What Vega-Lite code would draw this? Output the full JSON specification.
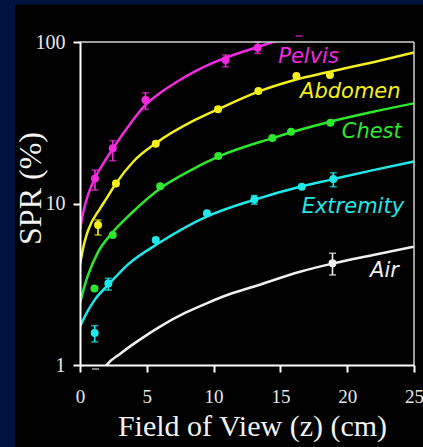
{
  "$schema": "https://vega.github.io/schema/vega-lite/v6.json",
  "width": 334,
  "height": 323,
  "autosize": {"type": "none"},
  "padding": {"left": 80, "top": 42, "right": 9, "bottom": 82},
  "background": "#00123f",
  "datasets": {
    "curves": [
      {"series": "Pelvis", "x": 0, "y": 6.85},
      {"series": "Pelvis", "x": 0.247, "y": 8.86},
      {"series": "Pelvis", "x": 0.599, "y": 11.29},
      {"series": "Pelvis", "x": 1.123, "y": 14.38},
      {"series": "Pelvis", "x": 1.722, "y": 17.56},
      {"series": "Pelvis", "x": 2.418, "y": 21.6},
      {"series": "Pelvis", "x": 3.615, "y": 30.0},
      {"series": "Pelvis", "x": 4.865, "y": 40.45},
      {"series": "Pelvis", "x": 5.988, "y": 48.3},
      {"series": "Pelvis", "x": 7.111, "y": 55.7},
      {"series": "Pelvis", "x": 8.608, "y": 65.7},
      {"series": "Pelvis", "x": 10.03, "y": 74.7},
      {"series": "Pelvis", "x": 11.47, "y": 83.1},
      {"series": "Pelvis", "x": 13.3, "y": 93.1},
      {"series": "Pelvis", "x": 14.22, "y": 98.6},
      {"series": "Pelvis", "x": 15.72, "y": 108.2},
      {"series": "Abdomen", "x": 0, "y": 4.2},
      {"series": "Abdomen", "x": 0.3, "y": 5.6},
      {"series": "Abdomen", "x": 0.6, "y": 6.8},
      {"series": "Abdomen", "x": 1.5, "y": 9.3},
      {"series": "Abdomen", "x": 2.0, "y": 10.8},
      {"series": "Abdomen", "x": 2.69, "y": 13.3},
      {"series": "Abdomen", "x": 4.0, "y": 18.2},
      {"series": "Abdomen", "x": 5.61, "y": 23.4},
      {"series": "Abdomen", "x": 8.61, "y": 32.9},
      {"series": "Abdomen", "x": 10.35, "y": 38.4},
      {"series": "Abdomen", "x": 13.4, "y": 49.5},
      {"series": "Abdomen", "x": 16, "y": 58},
      {"series": "Abdomen", "x": 18.7, "y": 65.5},
      {"series": "Abdomen", "x": 21.95, "y": 75},
      {"series": "Abdomen", "x": 25, "y": 86},
      {"series": "Chest", "x": 0, "y": 2.41},
      {"series": "Chest", "x": 0.3, "y": 3.0},
      {"series": "Chest", "x": 0.6, "y": 3.6},
      {"series": "Chest", "x": 1.35, "y": 5.0},
      {"series": "Chest", "x": 2.35, "y": 6.5},
      {"series": "Chest", "x": 3.84, "y": 8.7},
      {"series": "Chest", "x": 6.0, "y": 12.4},
      {"series": "Chest", "x": 8, "y": 15.6},
      {"series": "Chest", "x": 10.35, "y": 19.5},
      {"series": "Chest", "x": 14.35, "y": 25.3},
      {"series": "Chest", "x": 16.47, "y": 28.6},
      {"series": "Chest", "x": 18.71, "y": 32.1},
      {"series": "Chest", "x": 21.95, "y": 37.0},
      {"series": "Chest", "x": 25, "y": 41.7},
      {"series": "Extremity", "x": 0, "y": 1.73},
      {"series": "Extremity", "x": 0.5, "y": 2.1},
      {"series": "Extremity", "x": 1.1, "y": 2.53},
      {"series": "Extremity", "x": 2.1, "y": 3.13},
      {"series": "Extremity", "x": 3.6, "y": 4.2},
      {"series": "Extremity", "x": 6.0, "y": 5.75},
      {"series": "Extremity", "x": 9.48, "y": 8.29},
      {"series": "Extremity", "x": 12.97, "y": 10.5},
      {"series": "Extremity", "x": 16.47, "y": 12.7},
      {"series": "Extremity", "x": 18.71, "y": 14.0},
      {"series": "Extremity", "x": 21.95, "y": 16.1},
      {"series": "Extremity", "x": 25, "y": 18.2},
      {"series": "Air", "x": 1.5, "y": 0.85},
      {"series": "Air", "x": 2.0, "y": 1.0},
      {"series": "Air", "x": 2.99, "y": 1.17},
      {"series": "Air", "x": 4.34, "y": 1.41},
      {"series": "Air", "x": 5.99, "y": 1.73},
      {"series": "Air", "x": 7.86, "y": 2.10},
      {"series": "Air", "x": 9.48, "y": 2.41},
      {"series": "Air", "x": 11.23, "y": 2.75},
      {"series": "Air", "x": 12.97, "y": 3.05},
      {"series": "Air", "x": 16.47, "y": 3.78},
      {"series": "Air", "x": 18.96, "y": 4.26},
      {"series": "Air", "x": 21.95, "y": 4.80},
      {"series": "Air", "x": 25, "y": 5.40}
    ],
    "points": [
      {"series": "Pelvis", "x": 1.12, "y": 14.3},
      {"series": "Pelvis", "x": 2.45, "y": 22.0},
      {"series": "Pelvis", "x": 4.9, "y": 43.7},
      {"series": "Pelvis", "x": 10.9, "y": 77.4},
      {"series": "Pelvis", "x": 13.3, "y": 92.2},
      {"series": "Abdomen", "x": 1.35, "y": 7.36},
      {"series": "Abdomen", "x": 2.69, "y": 13.3},
      {"series": "Abdomen", "x": 5.67, "y": 23.4},
      {"series": "Abdomen", "x": 10.33, "y": 38.4},
      {"series": "Abdomen", "x": 13.35, "y": 49.8},
      {"series": "Abdomen", "x": 16.2, "y": 61.6},
      {"series": "Abdomen", "x": 18.71, "y": 62.5},
      {"series": "Chest", "x": 1.08, "y": 2.98},
      {"series": "Chest", "x": 2.45, "y": 6.38},
      {"series": "Chest", "x": 6.0, "y": 12.8},
      {"series": "Chest", "x": 10.35, "y": 19.7},
      {"series": "Chest", "x": 14.4, "y": 25.4},
      {"series": "Chest", "x": 15.8, "y": 27.8},
      {"series": "Chest", "x": 18.75, "y": 31.6},
      {"series": "Extremity", "x": 1.1, "y": 1.58},
      {"series": "Extremity", "x": 2.12, "y": 3.2},
      {"series": "Extremity", "x": 5.67, "y": 5.95},
      {"series": "Extremity", "x": 9.5, "y": 8.7},
      {"series": "Extremity", "x": 13.05, "y": 10.6},
      {"series": "Extremity", "x": 16.6, "y": 12.7},
      {"series": "Extremity", "x": 18.96, "y": 14.2},
      {"series": "Air", "x": 18.9, "y": 4.26}
    ],
    "errs": [
      {"series": "Pelvis", "x": 1.12, "lo": 12.1, "hi": 16.1},
      {"series": "Pelvis", "x": 2.45, "lo": 18.4, "hi": 24.5},
      {"series": "Pelvis", "x": 4.9, "lo": 38.3, "hi": 48.5},
      {"series": "Pelvis", "x": 10.9, "lo": 70.3, "hi": 83.1},
      {"series": "Pelvis", "x": 13.3, "lo": 85.1, "hi": 100},
      {"series": "Abdomen", "x": 1.35, "lo": 6.38, "hi": 7.9},
      {"series": "Extremity", "x": 1.1, "lo": 1.39, "hi": 1.75},
      {"series": "Extremity", "x": 2.12, "lo": 2.91, "hi": 3.44},
      {"series": "Extremity", "x": 13.05, "lo": 9.9, "hi": 11.2},
      {"series": "Extremity", "x": 18.96, "lo": 12.7, "hi": 15.5},
      {"series": "Air", "x": 18.9, "lo": 3.61, "hi": 4.92}
    ],
    "stray": [
      {"series": "Pelvis", "x": 16.4, "y": 109},
      {"series": "Air", "x": 1.17, "y": 0.944}
    ],
    "labels": [
      {"series": "Pelvis", "x": 14.84, "y": 73.8, "label": "Pelvis"},
      {"series": "Abdomen", "x": 16.47, "y": 44.8, "label": "Abdomen"},
      {"series": "Chest", "x": 19.59, "y": 25.3, "label": "Chest"},
      {"series": "Extremity", "x": 16.59, "y": 8.7, "label": "Extremity"},
      {"series": "Air", "x": 21.71, "y": 3.49, "label": "Air"}
    ]
  },
  "layer": [
    {
      "data": {"values": [{}]},
      "mark": {"type": "rect", "fill": "#000000", "clip": false},
      "encoding": {
        "x": {"datum": -4.87, "type": "quantitative", "scale": {"domain": [0, 25], "nice": false, "zero": false}, "title": "Field of View (z) (cm)"},
        "x2": {"datum": 25.7},
        "y": {"datum": 170, "type": "quantitative", "scale": {"type": "log", "domain": [1, 100], "nice": false}, "title": "SPR (%)"},
        "y2": {"datum": 0.3}
      }
    },
    {
      "data": {"name": "curves"},
      "mark": {"type": "line", "strokeWidth": 2.5, "interpolate": "monotone", "clip": true},
      "encoding": {
        "x": {"field": "x", "type": "quantitative", "scale": {"domain": [0, 25], "nice": false, "zero": false}, "title": "Field of View (z) (cm)",
          "axis": {"values": [0, 5, 10, 15, 20, 25], "format": "d", "zindex": 1}},
        "y": {"field": "y", "type": "quantitative", "scale": {"type": "log", "domain": [1, 100], "nice": false}, "title": "SPR (%)",
          "axis": {"values": [1, 10, 100], "format": "d", "zindex": 1}},
        "color": {"field": "series", "type": "nominal", "legend": null,
          "scale": {"domain": ["Pelvis", "Abdomen", "Chest", "Extremity", "Air"], "range": ["#f22ae0", "#f4f01c", "#2ee82e", "#1ee8e8", "#f0f0f0"]}},
        "detail": {"field": "series"}
      }
    },
    {
      "data": {"name": "errs"},
      "mark": {"type": "rule", "strokeWidth": 1.6},
      "encoding": {
        "x": {"field": "x", "type": "quantitative", "title": "Field of View (z) (cm)"},
        "y": {"field": "lo", "type": "quantitative", "scale": {"type": "log", "domain": [1, 100], "nice": false}, "title": "SPR (%)"},
        "y2": {"field": "hi"},
        "color": {"field": "series", "type": "nominal", "legend": null}
      }
    },
    {
      "data": {"name": "errs"},
      "mark": {"type": "tick", "orient": "horizontal", "size": 7, "thickness": 1.6},
      "encoding": {
        "x": {"field": "x", "type": "quantitative", "title": "Field of View (z) (cm)"},
        "y": {"field": "lo", "type": "quantitative", "scale": {"type": "log", "domain": [1, 100], "nice": false}, "title": "SPR (%)"},
        "color": {"field": "series", "type": "nominal", "legend": null}
      }
    },
    {
      "data": {"name": "errs"},
      "mark": {"type": "tick", "orient": "horizontal", "size": 7, "thickness": 1.6},
      "encoding": {
        "x": {"field": "x", "type": "quantitative", "title": "Field of View (z) (cm)"},
        "y": {"field": "hi", "type": "quantitative", "scale": {"type": "log", "domain": [1, 100], "nice": false}, "title": "SPR (%)"},
        "color": {"field": "series", "type": "nominal", "legend": null}
      }
    },
    {
      "data": {"name": "stray"},
      "mark": {"type": "tick", "orient": "horizontal", "size": 7, "thickness": 1.6, "clip": false},
      "encoding": {
        "x": {"field": "x", "type": "quantitative", "title": "Field of View (z) (cm)"},
        "y": {"field": "y", "type": "quantitative", "scale": {"type": "log", "domain": [1, 100], "nice": false}, "title": "SPR (%)"},
        "color": {"field": "series", "type": "nominal", "legend": null}
      }
    },
    {
      "data": {"name": "points"},
      "mark": {"type": "circle", "size": 64, "opacity": 1},
      "encoding": {
        "x": {"field": "x", "type": "quantitative", "title": "Field of View (z) (cm)"},
        "y": {"field": "y", "type": "quantitative", "scale": {"type": "log", "domain": [1, 100], "nice": false}, "title": "SPR (%)"},
        "color": {"field": "series", "type": "nominal", "legend": null}
      }
    },
    {
      "data": {"values": [{}]},
      "mark": {"type": "rule", "color": "#d0d0d0", "strokeWidth": 1.5},
      "encoding": {
        "x": {"datum": 0, "type": "quantitative", "title": "Field of View (z) (cm)"},
        "x2": {"datum": 25},
        "y": {"datum": 100, "type": "quantitative", "scale": {"type": "log", "domain": [1, 100], "nice": false}, "title": "SPR (%)"}
      }
    },
    {
      "data": {"values": [{}]},
      "mark": {"type": "rule", "color": "#d0d0d0", "strokeWidth": 1.5},
      "encoding": {
        "x": {"datum": 25, "type": "quantitative", "title": "Field of View (z) (cm)"},
        "y": {"datum": 1, "type": "quantitative", "scale": {"type": "log", "domain": [1, 100], "nice": false}, "title": "SPR (%)"},
        "y2": {"datum": 100}
      }
    },
    {
      "data": {"name": "labels"},
      "mark": {"type": "text", "font": "DejaVu Sans", "fontStyle": "italic", "fontSize": 21, "align": "left", "baseline": "alphabetic", "clip": false},
      "encoding": {
        "x": {"field": "x", "type": "quantitative", "title": "Field of View (z) (cm)"},
        "y": {"field": "y", "type": "quantitative", "scale": {"type": "log", "domain": [1, 100], "nice": false}, "title": "SPR (%)"},
        "text": {"field": "label"},
        "color": {"field": "series", "type": "nominal", "legend": null}
      }
    }
  ],
  "config": {
    "view": {"stroke": null},
    "axis": {
      "grid": false,
      "domainColor": "#ffffff",
      "domainWidth": 2,
      "tickColor": "#ffffff",
      "tickWidth": 2,
      "tickSize": 7,
      "labelFont": "Liberation Serif",
      "labelFontSize": 20,
      "labelColor": "#e8e8e8",
      "labelFlush": false,
      "titleFont": "Liberation Serif",
      "titleFontSize": 32,
      "titleFontWeight": "normal",
      "titleColor": "#f2f2f2"
    },
    "axisX": {
      "labelPadding": 15,
      "labelFontSize": 19,
      "titleFontSize": 30,
      "titleX": 172,
      "titleY": 70,
      "titleBaseline": "alphabetic",
      "titleAlign": "center"
    },
    "axisY": {
      "labelPadding": 8,
      "titleAngle": 270,
      "titleX": -40,
      "titleY": 146,
      "titleBaseline": "alphabetic",
      "titleAlign": "center"
    }
  }
}
